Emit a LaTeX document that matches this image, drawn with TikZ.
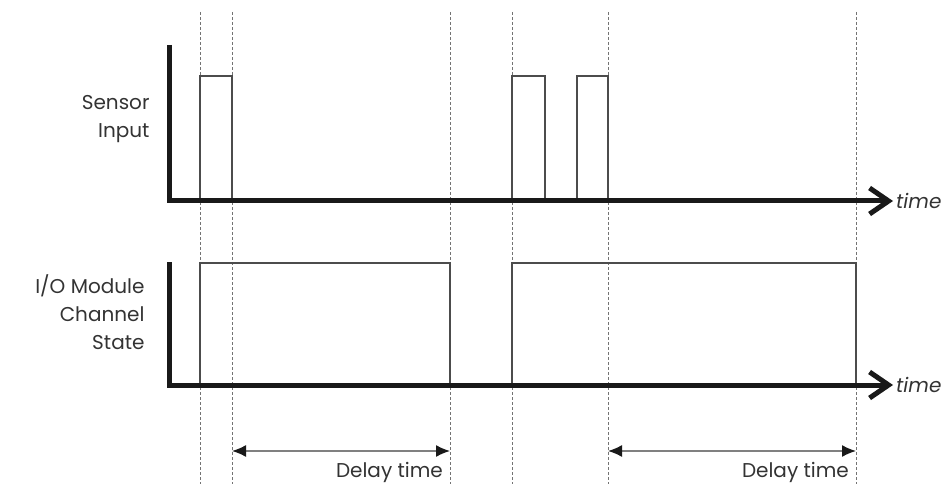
\documentclass[tikz,border=0pt]{standalone}
\usepackage{fontspec}
\setmainfont{Poppins}
\usetikzlibrary{arrows.meta}
\tikzset{
  axis/.style={line width=5pt, color=black!90, -{Straight Barb[length=19pt,width=26pt]}},
  guide/.style={black!55, line width=1pt, dash pattern=on 3pt off 2pt},
  pulse/.style={black!70, line width=1.2pt},
  delay/.style={black!50, line width=1.5pt, {Latex[length=14pt,width=12pt,black!90]}-{Latex[length=14pt,width=12pt,black!90]}},
  lbl/.style={align=right, anchor=east, font=\fontsize{20}{28}\selectfont\color{black!80}},
  timelbl/.style={anchor=west, font=\fontsize{20}{24}\selectfont\itshape\color{black!80}}
}
\begin{document}
\begin{tikzpicture}[x=1pt,y=-1pt]
\useasboundingbox (0,0) rectangle (946,484);
% guide lines
\foreach \x in {200,232,450,512,608,856}
\draw[guide] (\x,12) -- (\x,484);
% sensor input
\coordinate (s0) at (169,45);
\coordinate (s1) at (169,201);
\coordinate (s2) at (893,201);
\draw[pulse] (200,201) -- (200,76) -- (232,76) -- (232,201);
\draw[pulse] (512,201) -- (512,76) -- (545,76) -- (545,201);
\draw[pulse] (577,201) -- (577,76) -- (608,76) -- (608,201);
\draw[axis] (s0) -- (s1) -- (s2);
\node[timelbl, inner sep=3pt] (t1) at (s2) {time};
\node[lbl] (sensor) at (153,119) {Sensor\\Input};
% channel state
\coordinate (c0) at (169,262);
\coordinate (c1) at (169,385);
\coordinate (c2) at (893,385);
\draw[pulse] (200,385) -- (200,263) -- (450,263) -- (450,385);
\draw[pulse] (512,385) -- (512,263) -- (856,263) -- (856,385);
\draw[axis] (c0) -- (c1) -- (c2);
\node[timelbl, inner sep=3pt] (t2) at (c2) {time};
\node[lbl] (state) at (148,312) {I/O Module\\Channel\\State};
% delay
\coordinate (d1a) at (232,451);
\coordinate (d1b) at (450,451);
\coordinate (d2a) at (608,451);
\coordinate (d2b) at (856,451);
\draw[delay] (d1a) -- (d1b);
\draw[delay] (d2a) -- (d2b);
\node[lbl, anchor=base east, inner sep=0pt] (delay1) at (443,477) {Delay time};
\node[lbl, anchor=base east, inner sep=0pt] (delay2) at (849,477) {Delay time};
\end{tikzpicture}
\end{document}
